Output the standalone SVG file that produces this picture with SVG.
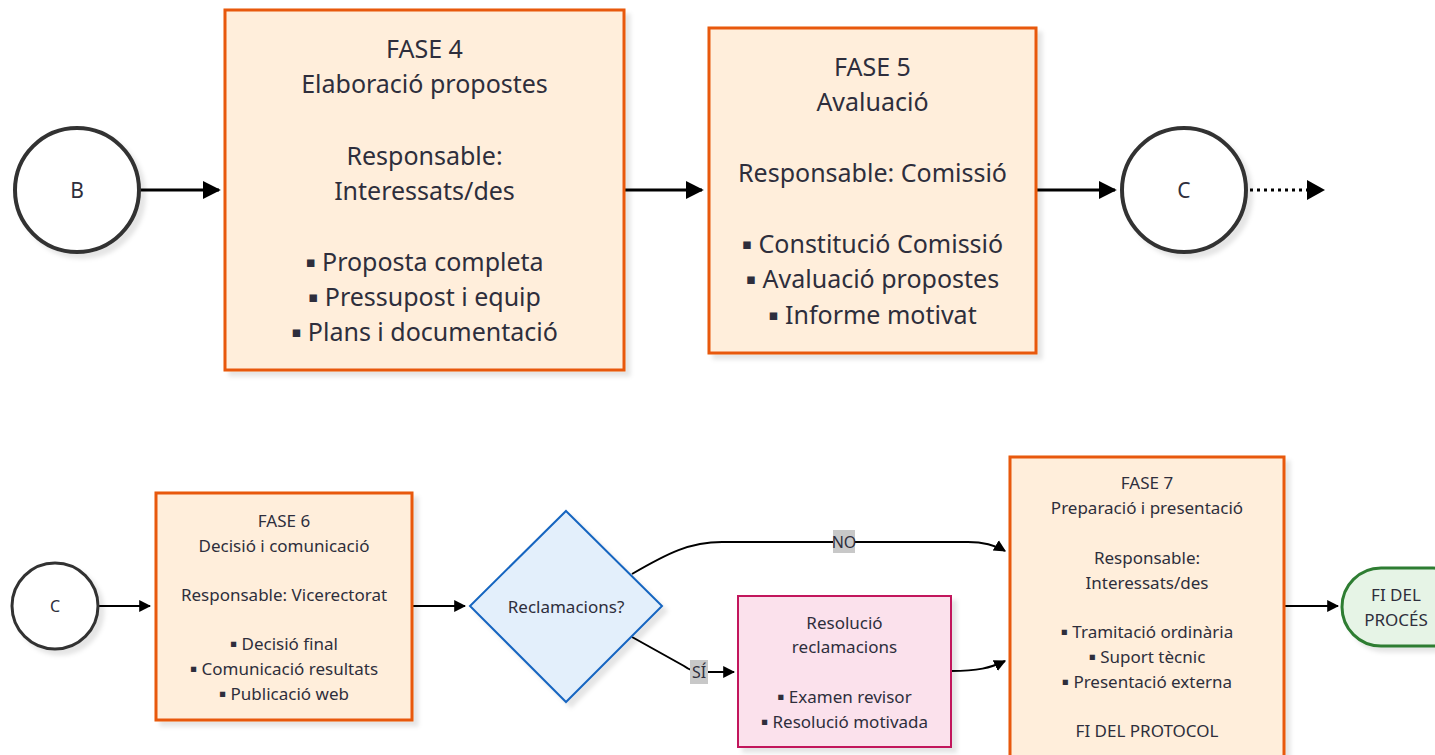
<svg xmlns="http://www.w3.org/2000/svg" width="1435" height="755" viewBox="0 0 1435 755">
<defs>
<filter id="sh" x="-10%" y="-10%" width="130%" height="130%">
<feDropShadow dx="5" dy="5" stdDeviation="2" flood-color="#000" flood-opacity="0.10"/>
</filter>
<marker id="ah" viewBox="0 0 10 10" refX="9" refY="5" markerWidth="6" markerHeight="7" markerUnits="strokeWidth" orient="auto">
<path d="M0,0 L10,5 L0,10 z" fill="#000"/>
</marker>
</defs>
<style>
text{font-family:"Noto Sans","DejaVu Sans",sans-serif;fill:#2e2e3c;text-anchor:middle;dominant-baseline:central}
.big{font-size:25px}
.sm{font-size:17px}
.bb{font-size:15px}
.bs{font-size:10.5px}
.phase{fill:#ffeedb;stroke:#e8590c;stroke-width:3}
.circ{fill:#fff;stroke:#333;stroke-width:4}
.circs{fill:#fff;stroke:#333;stroke-width:3}
.edge{fill:none;stroke:#000;marker-end:url(#ah)}
.e3{stroke-width:3}
.e2{stroke-width:2}
.lbl{fill:#c8c8c8}
</style>
<rect width="1435" height="755" fill="#fff"/>

<g id="connectors">
<path class="edge e3" d="M140,190 L219,190"/>
<path class="edge e3" d="M624,190 L702,190"/>
<path class="edge e3" d="M1037,190 L1115,190"/>
<path d="M1250,190 L1308,190" fill="none" stroke="#000" stroke-width="3" stroke-dasharray="3 4"/>
<path d="M1307,180 L1325,190 L1307,200 z" fill="#000"/>
<path class="edge e2" d="M99,606 L150,606"/>
<path class="edge e2" d="M412,606 L465,606"/>
<path class="edge e2" d="M632,574 C668,553 690,542 722,542 L968,542 C985,542 995,545 1005,551"/>
<path class="edge e2" d="M632,637 L684,666 Q692,672 702,672 L734,672"/>
<path class="edge e2" d="M951,671 C978,671 990,668 1005,661"/>
<path class="edge e2" d="M1284,606 L1338,606"/>
<g id="label-no"><rect class="lbl" x="833" y="530" width="22" height="23"/><text x="844" y="542" font-size="16">NO</text></g>
<g id="label-si"><rect class="lbl" x="690" y="660" width="18" height="24"/><text x="699" y="672" font-size="16">SÍ</text></g>
</g>

<g id="nodeB">
<circle class="circ" cx="77" cy="190" r="62" filter="url(#sh)"/>
<text x="77" y="190" font-size="21">B</text>
</g>

<g id="fase4">
<rect class="phase" x="225" y="10" width="399" height="360" filter="url(#sh)"/>
<text class="big" x="424.5" y="48">FASE 4</text>
<text class="big" x="424.5" y="83">Elaboració propostes</text>
<text class="big" x="424.5" y="155">Responsable:</text>
<text class="big" x="424.5" y="190">Interessats/des</text>
<text class="big" x="424.5" y="261"><tspan class="bb">▪</tspan> Proposta completa</text>
<text class="big" x="424.5" y="296"><tspan class="bb">▪</tspan> Pressupost i equip</text>
<text class="big" x="424.5" y="331"><tspan class="bb">▪</tspan> Plans i documentació</text>
</g>

<g id="fase5">
<rect class="phase" x="709" y="28" width="327" height="325" filter="url(#sh)"/>
<text class="big" x="872.5" y="66">FASE 5</text>
<text class="big" x="872.5" y="101">Avaluació</text>
<text class="big" x="872.5" y="172">Responsable: Comissió</text>
<text class="big" x="872.5" y="243"><tspan class="bb">▪</tspan> Constitució Comissió</text>
<text class="big" x="872.5" y="278"><tspan class="bb">▪</tspan> Avaluació propostes</text>
<text class="big" x="872.5" y="314"><tspan class="bb">▪</tspan> Informe motivat</text>
</g>

<g id="nodeC1">
<circle class="circ" cx="1184" cy="190" r="62" filter="url(#sh)"/>
<text x="1184" y="190" font-size="21">C</text>
</g>

<g id="nodeC2">
<circle class="circs" cx="55" cy="606" r="43" filter="url(#sh)"/>
<text x="55" y="606" font-size="16">C</text>
</g>

<g id="fase6">
<rect class="phase" x="156" y="493" width="256" height="227" filter="url(#sh)"/>
<text class="sm" x="284" y="520">FASE 6</text>
<text class="sm" x="284" y="545">Decisió i comunicació</text>
<text class="sm" x="284" y="594">Responsable: Vicerectorat</text>
<text class="sm" x="284" y="643"><tspan class="bs">▪</tspan> Decisió final</text>
<text class="sm" x="284" y="668"><tspan class="bs">▪</tspan> Comunicació resultats</text>
<text class="sm" x="284" y="693"><tspan class="bs">▪</tspan> Publicació web</text>
</g>

<g id="decisio">
<polygon points="566,511 662,606 566,702 470,606" fill="#e3effb" stroke="#1565c0" stroke-width="2" filter="url(#sh)"/>
<text class="sm" x="566" y="606">Reclamacions?</text>
</g>

<g id="resolucio">
<rect x="738" y="596" width="213" height="151" fill="#fbe1ec" stroke="#c2185b" stroke-width="2" filter="url(#sh)"/>
<text class="sm" x="844.5" y="622">Resolució</text>
<text class="sm" x="844.5" y="646">reclamacions</text>
<text class="sm" x="844.5" y="696"><tspan class="bs">▪</tspan> Examen revisor</text>
<text class="sm" x="844.5" y="721"><tspan class="bs">▪</tspan> Resolució motivada</text>
</g>

<g id="fase7">
<rect class="phase" x="1010" y="457" width="274" height="320" filter="url(#sh)"/>
<text class="sm" x="1147" y="482">FASE 7</text>
<text class="sm" x="1147" y="507">Preparació i presentació</text>
<text class="sm" x="1147" y="557">Responsable:</text>
<text class="sm" x="1147" y="582">Interessats/des</text>
<text class="sm" x="1147" y="631"><tspan class="bs">▪</tspan> Tramitació ordinària</text>
<text class="sm" x="1147" y="656"><tspan class="bs">▪</tspan> Suport tècnic</text>
<text class="sm" x="1147" y="681"><tspan class="bs">▪</tspan> Presentació externa</text>
<text class="sm" x="1147" y="730">FI DEL PROTOCOL</text>
</g>

<g id="fi">
<rect x="1342" y="568" width="130" height="78" rx="39" ry="39" fill="#e6f4e6" stroke="#2e7d32" stroke-width="3" filter="url(#sh)"/>
<text class="sm" x="1396" y="594">FI DEL</text>
<text class="sm" x="1396" y="619">PROCÉS</text>
</g>
</svg>
